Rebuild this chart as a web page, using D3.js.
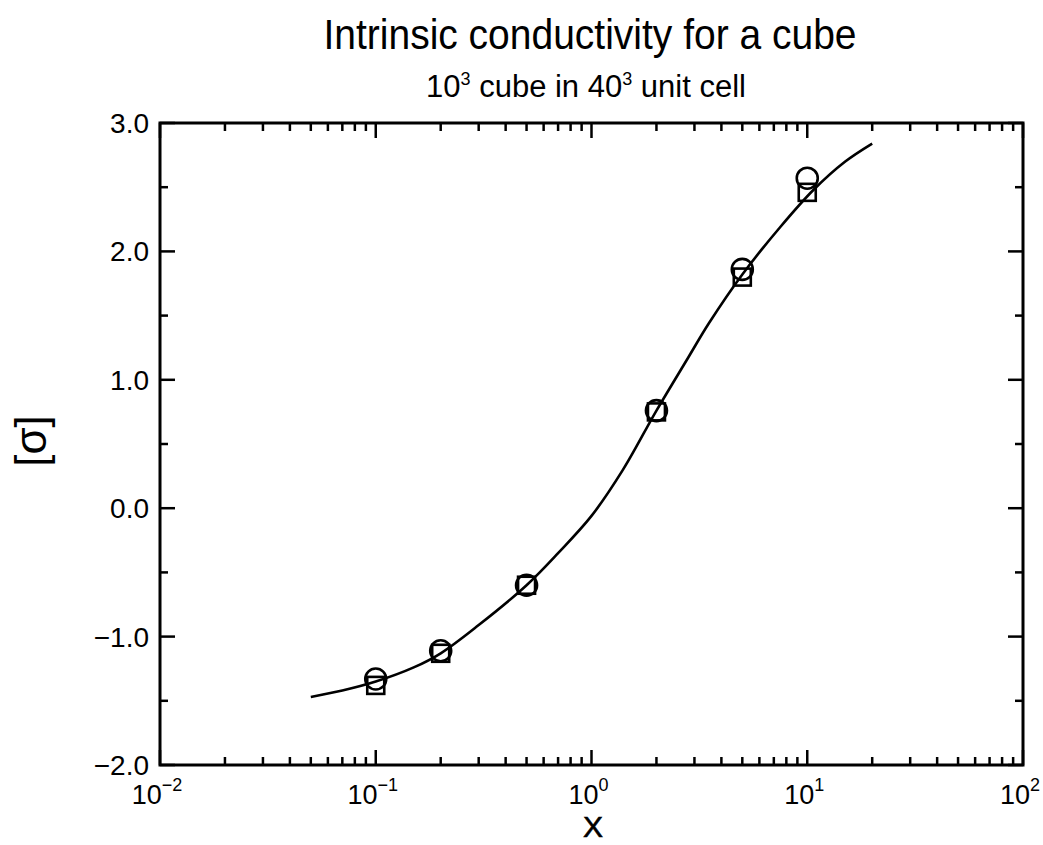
<!DOCTYPE html>
<html><head><meta charset="utf-8">
<script src="https://cdn.jsdelivr.net/npm/d3@7"></script>
<style>body{margin:0;background:#fff}svg{display:block}text{font-family:"Liberation Sans",Arial,sans-serif;fill:#000}</style>
</head><body>
<script>
const circleX = [0.1, 0.2, 0.5, 2, 5, 10];
const circleY = [-1.33, -1.11, -0.60, 0.76, 1.86, 2.57];
const squareX = [0.1, 0.2, 0.5, 2, 5, 10];
const squareY = [-1.38, -1.13, -0.60, 0.75, 1.80, 2.46];
const curveX = [0.05, 0.07, 0.1, 0.15, 0.2, 0.3, 0.5, 0.7, 1.0, 1.4, 2.0, 2.8, 3.5, 5.0, 7.5, 10.7, 15, 20];
const curveY = [-1.47, -1.42, -1.35, -1.24, -1.13, -0.91, -0.60, -0.35, -0.06, 0.30, 0.76, 1.17, 1.44, 1.82, 2.19, 2.48, 2.70, 2.84];
const xTickExp = [-2, -1, 0, 1, 2];
const yTicks = [-2, -1, 0, 1, 2, 3];
const yTickLabels = ["\u22122.0", "\u22121.0", "0.0", "1.0", "2.0", "3.0"];

const W = 1043, H = 845;
const svg = d3.select("body").append("svg").attr("width", W).attr("height", H);
const L = 160, R = 1023, T = 123, B = 765;
const x = d3.scaleLog().domain([0.01, 100]).range([L, R]);
const y = d3.scaleLinear().domain([-2, 3]).range([B, T]);

const xMinor = [];
for (let e = -2; e < 2; e++) for (let m = 2; m <= 9; m++) xMinor.push(m * Math.pow(10, e));
const xMajor = xTickExp.map(e => Math.pow(10, e));
const yMinor = d3.range(-1.5, 3, 1);

const g = svg.append("g").attr("stroke", "#000").attr("stroke-width", 2.5);
function vt(v, len) {
  g.append("line").attr("x1", x(v)).attr("x2", x(v)).attr("y1", B).attr("y2", B - len);
  g.append("line").attr("x1", x(v)).attr("x2", x(v)).attr("y1", T).attr("y2", T + len);
}
function ht(v, len) {
  g.append("line").attr("y1", y(v)).attr("y2", y(v)).attr("x1", L).attr("x2", L + len);
  g.append("line").attr("y1", y(v)).attr("y2", y(v)).attr("x1", R).attr("x2", R - len);
}
xMinor.forEach(v => vt(v, 8));
xMajor.forEach(v => vt(v, 15));
yMinor.forEach(v => ht(v, 8));
yTicks.forEach(v => ht(v, 15));
svg.append("rect").attr("x", L).attr("y", T).attr("width", R - L).attr("height", B - T)
  .attr("fill", "none").attr("stroke", "#000").attr("stroke-width", 3);

yTicks.forEach((v, i) => {
  svg.append("text").attr("x", L - 11).attr("y", y(v) + 10).attr("text-anchor", "end")
    .attr("font-size", 28).text(yTickLabels[i]);
});
xTickExp.forEach(e => {
  const t = svg.append("text").attr("x", x(Math.pow(10, e)) - 3).attr("y", 804).attr("text-anchor", "middle").attr("font-size", 27);
  t.append("tspan").text("10");
  t.append("tspan").attr("dy", -13).attr("font-size", 18).text(e < 0 ? "\u2212" + (-e) : String(e));
});

const line = d3.line().x((d, i) => x(curveX[i])).y((d, i) => y(curveY[i])).curve(d3.curveCatmullRom.alpha(0.5));
svg.append("path").attr("d", line(curveX)).attr("fill", "none").attr("stroke", "#000").attr("stroke-width", 2.6);

svg.append("g").selectAll("rect").data(squareX).join("rect")
  .attr("x", (d) => x(d) - 8.5).attr("y", (d, i) => y(squareY[i]) - 8.5)
  .attr("width", 17).attr("height", 17).attr("fill", "none").attr("stroke", "#000").attr("stroke-width", 2.6);
svg.append("g").selectAll("circle").data(circleX).join("circle")
  .attr("cx", d => x(d)).attr("cy", (d, i) => y(circleY[i])).attr("r", 10.5)
  .attr("fill", "none").attr("stroke", "#000").attr("stroke-width", 2.6);

svg.append("text").attr("transform", "translate(590,49) scale(1,1.08)").attr("text-anchor", "middle").attr("font-size", 39).text("Intrinsic conductivity for a cube");
const st = svg.append("text").attr("x", 586).attr("y", 97).attr("text-anchor", "middle").attr("font-size", 31);
st.append("tspan").text("10");
st.append("tspan").attr("dy", -12).attr("font-size", 18).text("3");
st.append("tspan").attr("dy", 12).text(" cube in 40");
st.append("tspan").attr("dy", -12).attr("font-size", 18).text("3");
st.append("tspan").attr("dy", 12).text(" unit cell");
svg.append("text").attr("x", 593).attr("y", 837).attr("text-anchor", "middle").attr("font-size", 30).attr("stroke", "#000").attr("stroke-width", 0.6).text("X");
svg.append("text").attr("transform", "translate(46,441) rotate(-90)").attr("text-anchor", "middle").attr("font-size", 44).text("[\u03c3]");
</script>
</body></html>
